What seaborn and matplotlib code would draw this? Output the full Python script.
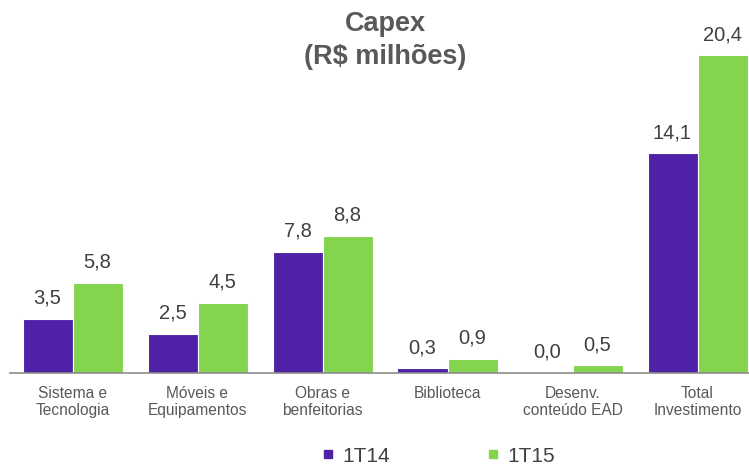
import numpy as np
import matplotlib.pyplot as plt
import seaborn as sns
import pandas as pd

categorias = ['Sistema e\nTecnologia', 'Móveis e\nEquipamentos', 'Obras e\nbenfeitorias',
              'Biblioteca', 'Desenv.\nconteúdo EAD', 'Total\nInvestimento']
v_1t14 = [3.5, 2.5, 7.8, 0.3, 0.0, 14.1]
v_1t15 = [5.8, 4.5, 8.8, 0.9, 0.5, 20.4]
series = ['1T14', '1T15']
cores = ['#4E21A6', '#84D44F']

df = pd.DataFrame({
    'cat': categorias * 2,
    'valor': v_1t14 + v_1t15,
    'periodo': ['1T14'] * 6 + ['1T15'] * 6,
})

sns.set_style('white')
plt.rcParams['font.family'] = ['Liberation Sans', 'DejaVu Sans']

fig = plt.figure(figsize=(7.49, 4.65), dpi=100)
ax = fig.add_axes([10 / 749, 92 / 465, 750 / 749, 341 / 465])
sns.barplot(data=df, x='cat', y='valor', hue='periodo', palette=cores, width=0.8,
            saturation=1, edgecolor='white', linewidth=0.8, ax=ax)
ax.set_ylim(0, 21.9)
ax.set_xlim(-0.5, 5.5)

for c in ax.containers:
    ax.bar_label(c, labels=[f'{v:.1f}'.replace('.', ',') for v in c.datavalues],
                 padding=8, fontsize=14.5, color='#404040')

for s in ['top', 'right', 'left']:
    ax.spines[s].set_visible(False)
ax.spines['bottom'].set_color('#8c8c8c')
ax.spines['bottom'].set_linewidth(1.2)
ax.set_yticks([])
ax.set_xlabel('')
ax.set_ylabel('')
ax.tick_params(axis='x', which='major', length=0, labelsize=11.2, labelcolor='#595959', pad=9)
ax.set_xticks(np.arange(-0.5, 6, 1), minor=True)
ax.tick_params(axis='x', which='minor', length=5, color='#8c8c8c', width=1.2, direction='out')

ax.text(0.5, 0.975, 'Capex\n(R$ milhões)', transform=ax.transAxes, ha='center', va='center',
        fontsize=19.5, fontweight='bold', color='#595959', linespacing=1.35)

ax.get_legend().remove()
handles = [plt.Line2D([], [], marker='s', linestyle='', markersize=5.5, color=col) for col in cores]
fig.legend(handles, series, loc='center', bbox_to_anchor=(438 / 749, 1 - 456 / 465), ncol=2,
           frameon=False, fontsize=15, handletextpad=0.35, columnspacing=4.6,
           labelcolor='#404040', handlelength=0.7)

plt.savefig('out.png', dpi=100)
